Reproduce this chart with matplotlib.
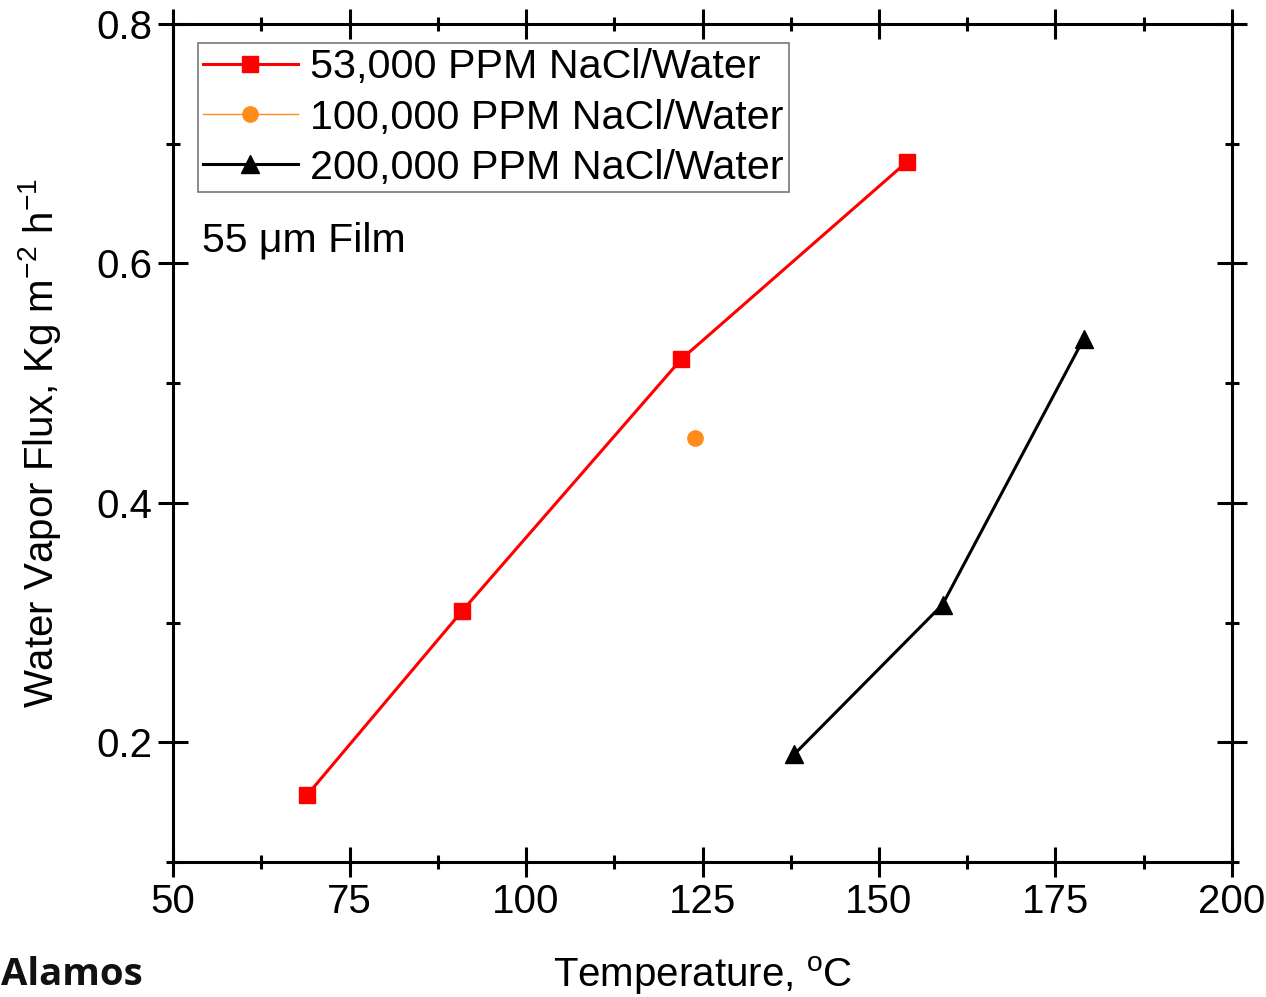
import matplotlib
matplotlib.use('Agg')
import matplotlib.pyplot as plt
from matplotlib.ticker import MultipleLocator

plt.rcParams['font.family'] = ['Liberation Sans', 'DejaVu Sans']

# data
temp_53k = [69, 91, 122, 154]
flux_53k = [0.156, 0.310, 0.520, 0.685]
temp_100k = [124]
flux_100k = [0.454]
temp_200k = [138, 159, 179]
flux_200k = [0.190, 0.315, 0.537]

labels = ['53,000 PPM NaCl/Water', '100,000 PPM NaCl/Water', '200,000 PPM NaCl/Water']

fig = plt.figure(figsize=(12.66, 9.97), dpi=100)
ax = fig.add_axes([0.1367, 0.1354, 0.8364, 0.8406])

ax.plot(temp_53k, flux_53k, color='#ff0000', lw=2.2, marker='s', ms=11, label=labels[0])
ax.plot(temp_100k, flux_100k, color='#ff8c1a', lw=1, marker='o', ms=11, label=labels[1])
ax.plot(temp_200k, flux_200k, color='black', lw=2.2, marker='^', ms=13, label=labels[2])

ax.set_xlim(50, 200)
ax.set_ylim(0.1, 0.8)
ax.xaxis.set_major_locator(MultipleLocator(25))
ax.xaxis.set_minor_locator(MultipleLocator(12.5))
ax.yaxis.set_minor_locator(MultipleLocator(0.1))
ax.set_yticks([0.2, 0.4, 0.6, 0.8])
ax.set_yticklabels(['0.2', '0.4', '0.6', '0.8'])

for sp in ax.spines.values():
    sp.set_linewidth(2.2)
ax.tick_params(which='major', direction='inout', length=22, width=2.2, labelsize=29,
               top=True, right=True, pad=4)
ax.tick_params(which='minor', direction='inout', length=10, width=2.2, top=True, right=True)

ax.set_xlabel('Temperature, $\\mathregular{^{o}}$C', fontsize=29, labelpad=24)
ax.set_ylabel('Water Vapor Flux, Kg m$\\mathregular{^{-2}}$ h$\\mathregular{^{-1}}$', fontsize=29, labelpad=24)

leg = ax.legend(loc='upper left', bbox_to_anchor=(0.0236, 0.977), fontsize=29.7, frameon=True,
                fancybox=False, edgecolor='#555555', handlelength=2.3, handletextpad=0.3,
                borderpad=0.12, labelspacing=0.3, borderaxespad=0)
leg.get_frame().set_linewidth(1.2)

ax.text(0.027, 0.742, '55 \u03bcm Film', transform=ax.transAxes, fontsize=29.5, va='center')

# cropped logo text at the lower left
fig.text(1 / 1266, 3 / 997, 'Alamos', fontsize=27.5, fontweight='bold',
         family='Open Sans', ha='left', va='bottom', color='#111111')

fig.savefig('out.png', dpi=100)
